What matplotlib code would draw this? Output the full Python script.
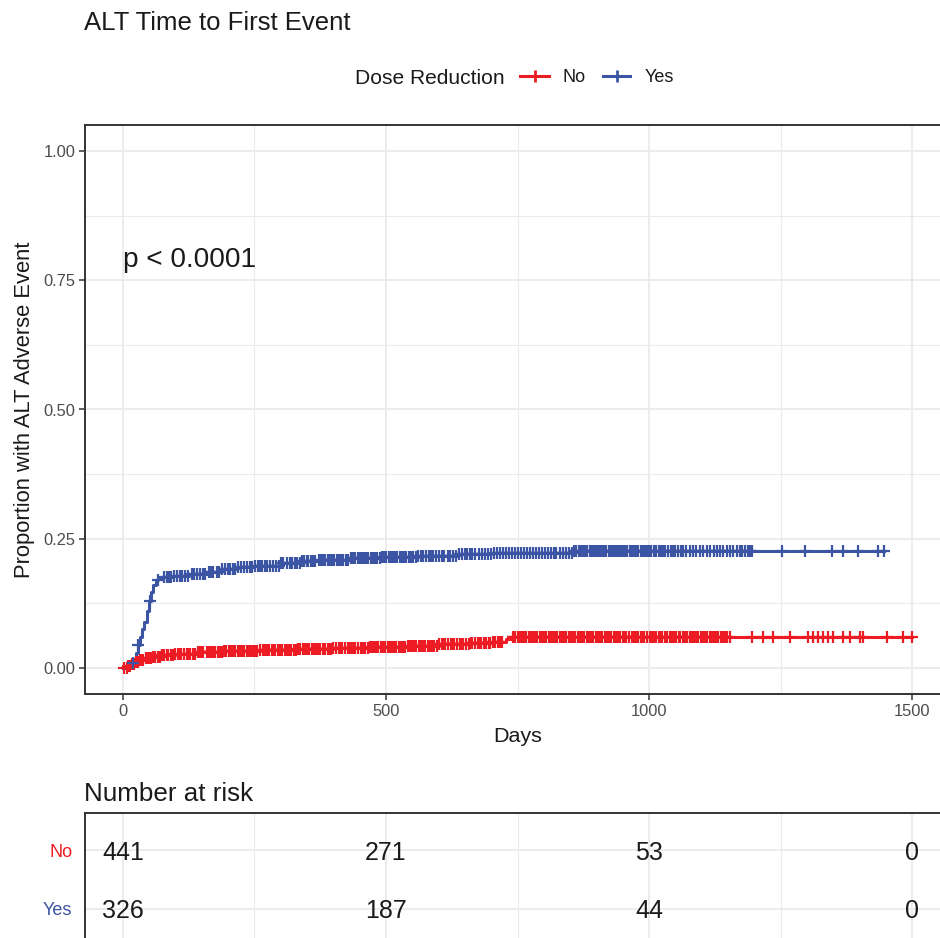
import numpy as np
import matplotlib
matplotlib.use("Agg")
import matplotlib.pyplot as plt
from matplotlib.lines import Line2D

plt.rcParams["font.family"] = ["Liberation Sans", "DejaVu Sans"]

# ---- data -------------------------------------------------------------
groups = ["No", "Yes"]
colors = {"No": "#ED1C24", "Yes": "#3B54A4"}

# cumulative incidence: event times (days) and value after each event
no_event_times = [0, 8, 15, 22, 30, 40, 55, 75, 100, 140, 190, 260, 330,
                  400, 470, 540, 600, 660, 700, 728, 738]
no_event_values = [0.0, 0.004, 0.008, 0.012, 0.016, 0.019, 0.022, 0.025,
                   0.028, 0.031, 0.033, 0.035, 0.037, 0.039, 0.041, 0.043,
                   0.046, 0.049, 0.051, 0.056, 0.060]
no_last_time = 1499

yes_event_times = [0, 5, 15, 20, 25, 29, 33, 37, 41, 45, 49, 53, 57, 62,
                   67, 95, 125, 160, 185, 215, 250, 300, 340, 370, 430,
                   490, 560, 635, 700, 855]
yes_event_values = [0.0, 0.003, 0.009, 0.018, 0.030, 0.045, 0.060, 0.075,
                    0.090, 0.110, 0.130, 0.148, 0.160, 0.170, 0.176, 0.179,
                    0.182, 0.186, 0.191, 0.195, 0.198, 0.203, 0.207, 0.210,
                    0.212, 0.214, 0.216, 0.220, 0.222, 0.227]
yes_last_time = 1447

# censoring times (days)
no_censor = [3, 7, 10, 14, 17, 21, 24, 28, 33, 36, 38, 43, 47, 51, 54, 58,
             61, 66, 71, 75, 79, 83, 86, 91, 96, 100, 104, 108, 111, 116,
             121, 125, 128, 133, 138, 142, 146, 150, 153, 159, 164, 168,
             171, 176, 181, 185, 188, 192, 196, 201, 206, 210, 213, 218,
             223, 227, 231, 235, 240, 244, 248, 252, 255, 261, 266, 270,
             273, 278, 283, 287, 290, 294, 298, 303, 308, 312, 315, 320,
             325, 329, 333, 337, 342, 346, 349, 354, 359, 363, 367, 371,
             374, 380, 385, 389, 392, 396, 400, 405, 410, 414, 417, 422,
             427, 431, 435, 439, 442, 447, 452, 456, 460, 465, 470, 474,
             477, 481, 485, 490, 495, 499, 503, 507, 512, 516, 519, 524,
             529, 533, 537, 541, 546, 550, 553, 558, 563, 567, 571, 575,
             580, 584, 588, 592, 597, 601, 606, 610, 613, 618, 623, 627,
             630, 635, 640, 644, 647, 652, 657, 661, 664, 669, 674, 678,
             681, 686, 691, 695, 698, 703, 708, 712, 716, 720, 742, 746,
             750, 754, 758, 763, 767, 771, 775, 780, 784, 787, 792, 797,
             801, 805, 809, 814, 818, 821, 826, 831, 835, 839, 843, 848,
             852, 855, 860, 865, 869, 873, 877, 882, 886, 889, 894, 899,
             903, 907, 911, 916, 920, 923, 928, 933, 937, 941, 945, 950,
             954, 957, 962, 967, 971, 975, 979, 984, 988, 991, 996, 1001,
             1005, 1009, 1013, 1018, 1022, 1025, 1030, 1035, 1039, 1043,
             1047, 1052, 1056, 1059, 1064, 1069, 1073, 1077, 1081, 1086,
             1090, 1093, 1098, 1103, 1107, 1111, 1115, 1120, 1124, 1127,
             1132, 1137, 1141, 1145, 1149, 1154, 1196, 1217, 1236, 1268,
             1303, 1312, 1322, 1331, 1341, 1350, 1369, 1382, 1401, 1407,
             1452, 1483, 1499]
yes_censor = [19, 29, 51, 66, 78, 83, 88, 92, 97, 102, 108, 113, 118, 124,
              131, 135, 140, 146, 152, 157, 163, 168, 172, 178, 183, 189,
              195, 200, 204, 209, 213, 219, 224, 230, 236, 241, 246, 251,
              257, 261, 265, 270, 274, 280, 286, 291, 297, 301, 305, 312,
              318, 322, 327, 331, 336, 340, 345, 349, 352, 357, 361, 366,
              372, 377, 381, 385, 390, 394, 398, 402, 407, 411, 415, 419,
              424, 428, 433, 437, 441, 446, 450, 454, 458, 462, 466, 471,
              475, 479, 483, 488, 492, 496, 500, 505, 509, 513, 517, 521,
              526, 530, 534, 538, 543, 548, 552, 557, 561, 566, 570, 576,
              581, 586, 590, 595, 600, 606, 611, 617, 622, 628, 633, 639,
              645, 650, 654, 659, 664, 670, 676, 682, 688, 694, 699, 705,
              711, 717, 722, 728, 733, 739, 745, 751, 756, 762, 768, 774,
              779, 785, 790, 796, 802, 808, 813, 819, 824, 830, 836, 842,
              847, 853, 858, 862, 866, 870, 874, 879, 883, 887, 891, 895,
              899, 903, 907, 911, 915, 919, 923, 927, 931, 935, 939, 943,
              947, 951, 955, 959, 963, 967, 971, 975, 979, 984, 988, 992,
              996, 1000, 1004, 1009, 1013, 1018, 1022, 1027, 1031, 1036,
              1041, 1046, 1050, 1055, 1060, 1065, 1070, 1077, 1084, 1090,
              1097, 1103, 1110, 1116, 1123, 1129, 1135, 1141, 1148, 1154,
              1160, 1167, 1172, 1177, 1183, 1188, 1192, 1196, 1253, 1297,
              1348, 1369, 1397, 1435, 1447]

# number at risk table
risk_times = [0, 500, 1000, 1500]
risk_no = [441, 271, 53, 0]
risk_yes = [326, 187, 44, 0]

curves = {
    "No": (no_event_times, no_event_values, no_last_time, no_censor),
    "Yes": (yes_event_times, yes_event_values, yes_last_time, yes_censor),
}

# ---- figure layout (pixel based) -------------------------------------
W, H = 940, 938
fig = plt.figure(figsize=(W / 100, H / 100), dpi=100)


def px(x0, y_top, x1, y_bottom):
    return [x0 / W, 1 - y_bottom / H, (x1 - x0) / W, (y_bottom - y_top) / H]


def pt(pxsize):
    return pxsize * 72 / 100


grid_col = "#EBEBEB"
border_col = "#333333"
tick_col = "#4D4D4D"
text_col = "#1A1A1A"
MS, MEW, LW = 9.0, 1.6, 2.2

ax = fig.add_axes(px(85, 125, 950, 694))
ax.set_xlim(-72, 1572)
ax.set_ylim(-0.05, 1.05)

for xv in [0, 250, 500, 750, 1000, 1250, 1500]:
    ax.axvline(xv, color=grid_col, lw=1.3 if xv % 500 == 0 else 0.8, zorder=0)
for yv in np.arange(0, 1.01, 0.125):
    ax.axhline(yv, color=grid_col, lw=1.3 if abs(yv * 4 - round(yv * 4)) < 1e-9 else 0.8, zorder=0)

for g in groups:
    t, v, tlast, cens = curves[g]
    tt = np.array(list(t) + [tlast])
    vv = np.array(list(v) + [v[-1]])
    ax.step(tt, vv, where="post", color=colors[g], lw=LW, zorder=3)
    cens = np.sort(np.array(cens))
    idx = np.searchsorted(np.array(t), cens, side="right") - 1
    cv = np.array(v)[idx]
    ax.plot(cens, cv, ls="none", marker="+", ms=MS, mew=MEW,
            color=colors[g], zorder=4)

ax.set_xticks([0, 500, 1000, 1500])
ax.set_yticks([0, 0.25, 0.5, 0.75, 1.0])
ax.set_yticklabels(["0.00", "0.25", "0.50", "0.75", "1.00"])
ax.tick_params(axis="both", colors=border_col, labelcolor=tick_col,
               labelsize=pt(16.5), length=4, width=1.1, pad=3)
for s in ax.spines.values():
    s.set_color(border_col)
    s.set_linewidth(1.4)

ax.set_xlabel("Days", fontsize=pt(21.5), color=text_col, labelpad=6)
ax.set_ylabel("Proportion with ALT Adverse Event", fontsize=pt(22),
              color=text_col, labelpad=6)
ax.text(0, 0.795, "p < 0.0001", fontsize=pt(28), color=text_col,
        ha="left", va="center_baseline")

# ---- title and legend --------------------------------------------------
fig.text(84 / W, 1 - 21 / H, "ALT Time to First Event", fontsize=pt(25.8),
         color=text_col, ha="left", va="center_baseline")

ly = 1 - 76 / H
fig.text(355 / W, ly, "Dose Reduction", fontsize=pt(21), color=text_col,
         ha="left", va="center_baseline")
legend_items = [("No", 520, 549, 563), ("Yes", 603, 630, 645)]
for g, x0, x1, xt in legend_items:
    fig.add_artist(Line2D([x0 / W, x1 / W], [ly, ly], transform=fig.transFigure,
                          color=colors[g], lw=LW))
    fig.add_artist(Line2D([(x0 + x1) / 2 / W], [ly], transform=fig.transFigure,
                          color=colors[g], marker="+", ms=MS, mew=2.0))
    fig.text(xt / W, ly, g, fontsize=pt(18), color=text_col,
             ha="left", va="center_baseline")

# ---- risk table ----------------------------------------------------------
fig.text(84 / W, 1 - 791 / H, "Number at risk", fontsize=pt(26),
         color=text_col, ha="left", va="center_baseline")

rax = fig.add_axes(px(85, 813, 950, 946))
rax.set_xlim(-72, 1572)
rax.set_ylim(0.354, 2.646)
for xv in [0, 250, 500, 750, 1000, 1250, 1500]:
    rax.axvline(xv, color=grid_col, lw=1.3 if xv % 500 == 0 else 0.8, zorder=0)
for yv in [1, 2]:
    rax.axhline(yv, color=grid_col, lw=1.3, zorder=0)
for xv, n in zip(risk_times, risk_no):
    rax.text(xv, 2, str(n), fontsize=pt(25), color=text_col,
             ha="center", va="center_baseline")
for xv, n in zip(risk_times, risk_yes):
    rax.text(xv, 1, str(n), fontsize=pt(25), color=text_col,
             ha="center", va="center_baseline")
rax.set_yticks([2, 1])
rax.set_yticklabels(["No", "Yes"], fontsize=pt(18))
for lab, g in zip(rax.get_yticklabels(), ["No", "Yes"]):
    lab.set_color(colors[g])
    lab.set_verticalalignment("center_baseline")
rax.tick_params(axis="y", length=0, pad=9)
rax.set_xticks([])
for s in rax.spines.values():
    s.set_color(border_col)
    s.set_linewidth(1.4)

fig.savefig("out.png", dpi=100)
